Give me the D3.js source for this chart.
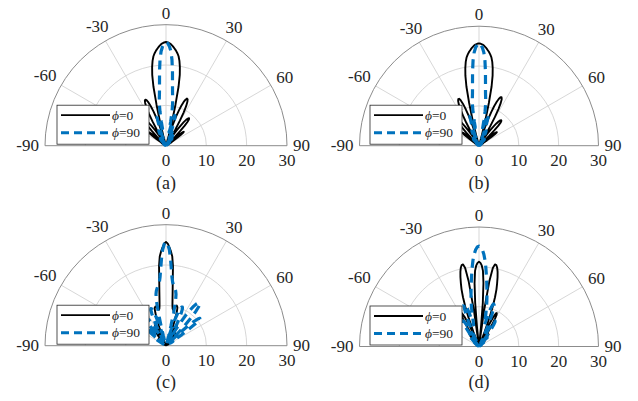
<!DOCTYPE html>
<html lang="en">
<head>
<meta charset="UTF-8">
<title>Radiation patterns</title>
<style>
  body { margin: 0; background: #fff; }
  svg text { font-family: "Liberation Serif", "Times New Roman", serif; fill: #262626; }
</style>
</head>
<body>
<div id="chart"></div>
<script src="https://cdn.jsdelivr.net/npm/d3@7"></script>
<script>
// sample angles (deg), shared by every pattern
const angles = [
  -60,-59,-58,-57,-56,-55,-54,-53,-52,-51,
  -50,-49,-48,-47,-46,-45,-44,-43,-42,-41,
  -40,-39,-38,-37,-36,-35,-34,-33,-32,-31,
  -30,-29,-28,-27,-26,-25,-24,-23,-22,-21,
  -20,-19,-18,-17,-16,-15,-14,-13,-12,-11,
  -10,-9,-8,-7,-6,-5,-4,-3,-2,-1,
  0,
  1,2,3,4,5,6,7,8,9,10,
  11,12,13,14,15,16,17,18,19,20,
  21,22,23,24,25,26,27,28,29,30,
  31,32,33,34,35,36,37,38,39,40,
  41,42,43,44,45,46,47,48,49,50,
  51,52,53,54,55,56,57,58,59,60
];

// (a)
const patA0 = [
  1.4,1,0.5,0.6,1.6,3,4.2,5.1,5.4,5.1,
  4.2,2.9,1.4,0.4,1.4,3.1,5,6.6,7.8,8.5,
  8.7,8.5,8,7.1,6,4.6,3.1,1.5,0.6,2.1,
  4.5,6.9,9.1,10.7,11.8,12.4,12.5,12.2,11.5,10.4,
  9,7.2,5,2.5,0.6,2.5,6.2,10.5,15,17.9,
  19.8,21.3,22.4,23.1,23.7,24.2,24.7,25.1,25.4,25.6,
  25.7,
  25.6,25.4,25.1,24.7,24.2,23.7,23.1,22.4,21.3,19.8,
  17.9,15,10.5,6.2,2.5,0.6,2.6,5.2,7.4,9.2,
  10.6,11.7,12.4,12.8,12.7,12.1,11,9.3,7.1,4.6,
  2.2,0.6,1.6,3.2,4.7,6.1,7.3,8.2,8.7,8.9,
  8.7,8,6.8,5.1,3.2,1.5,0.4,1.5,3,4.4,
  5.3,5.6,5.3,4.4,3.1,1.7,0.6,0.5,1.1,1.5
];
const patA90 = [
  0.2,0.3,0.5,0.5,0.4,0.2,0.4,0.7,0.8,0.6,
  0.3,0.3,0.8,1.2,1.2,0.8,0.3,0.5,1.4,2.1,
  2.2,1.7,0.9,0.3,1.1,2.2,2.9,3,2.4,1.3,
  0.6,1.4,2.6,3.6,4.1,4,3.4,2.4,1.6,2.8,
  3.8,5.5,6.8,7.5,7.6,6.8,5.2,3.3,3.6,6,
  8.6,10.5,11.9,13.3,15.4,18.4,21.3,23.4,24.6,25.4,
  25.7,
  25.4,24.6,23.4,21.3,18.4,15.4,13.3,11.9,10.5,8.6,
  6,3.6,3.4,5.4,7,7.8,7.7,6.9,5.6,3.9,
  2.8,1.6,2.4,3.4,4,4.1,3.6,2.6,1.4,0.6,
  1.3,2.4,3,2.9,2.2,1.1,0.3,0.9,1.7,2.3,
  2.2,1.5,0.6,0.3,0.8,1.2,1.2,0.8,0.3,0.3,
  0.6,0.8,0.7,0.4,0.2,0.4,0.5,0.5,0.3,0.2
];

// (b)
const patB0 = [
  1.3,1,0.5,0.5,1.5,2.8,4,4.9,5.3,5.1,
  4.3,3,1.5,0.4,1.3,2.8,4.6,6.2,7.5,8.3,
  8.6,8.5,8,7.2,6.1,4.7,3.2,1.6,0.6,2,
  4.2,6.5,8.6,10.3,11.6,12.4,12.8,12.8,12.3,11.3,
  9.8,7.9,5.6,2.9,0.6,2.8,6.6,11,15.2,17.9,
  19.8,21.3,22.4,23.1,23.7,24.2,24.7,25.1,25.4,25.6,
  25.7,
  25.6,25.4,25.1,24.7,24.2,23.7,23.1,22.4,21.3,19.8,
  17.9,15.2,11,6.6,2.8,0.6,2.2,4.6,6.9,8.9,
  10.6,11.9,12.8,13.3,13.4,13,12,10.4,8.2,5.6,
  3,1,0.6,2,3.5,4.9,6.1,7.1,7.8,8.3,
  8.5,8.4,8,7,5.5,3.6,1.7,0.5,1.8,3.5,
  4.8,5.5,5.6,5,3.9,2.4,1,0.4,0.9,1.3
];
const patB90 = [
  0.2,0.3,0.5,0.5,0.4,0.2,0.4,0.7,0.8,0.6,
  0.3,0.3,0.8,1.2,1.2,0.8,0.3,0.5,1.4,2.1,
  2.2,1.7,0.9,0.3,1.1,2.2,2.9,3,2.4,1.3,
  0.6,1.4,2.6,3.6,4.1,4,3.4,2.4,1.6,2.8,
  3.9,5.7,7,7.8,7.9,7.2,5.6,3.6,3.8,6.2,
  8.7,10.6,12,13.4,15.6,18.6,21.4,23.4,24.6,25.4,
  25.7,
  25.4,24.6,23.4,21.4,18.6,15.6,13.4,12,10.6,8.8,
  6.3,4,3.8,5.8,7.4,8.1,8,7.2,5.8,4,
  2.8,1.6,2.4,3.4,4,4.1,3.6,2.6,1.4,0.6,
  1.3,2.3,2.9,2.8,2.1,1.1,0.3,0.9,1.6,2.1,
  2,1.4,0.6,0.3,0.8,1.2,1.2,0.8,0.3,0.3,
  0.6,0.8,0.7,0.4,0.2,0.4,0.5,0.5,0.3,0.2
];

// (c)
const patC0 = [
  0.5,0.8,0.9,0.7,0.3,0.4,1,1.4,1.5,1.2,
  0.6,0.2,0.8,1.6,2.3,2.5,2.2,1.4,0.5,0.6,
  1.7,2.8,3.6,3.9,3.6,2.8,1.5,0.4,1.5,3,
  4.4,5.4,5.8,5.5,4.5,3,1.5,0.3,1,2.8,
  4.8,6.8,8.5,9.6,9.9,10.1,10,9.7,9.3,9.1,
  9.4,10.2,11.6,13.5,16,19.8,22.2,23.4,24.4,25.3,
  25.7,
  25.3,24.4,23.4,22.2,19.8,16,13.5,11.6,10.2,9.4,
  9.1,9.3,9.8,10.2,10.3,10.1,9.6,8.5,6.8,4.8,
  2.8,1,0.3,1.5,3,4.5,5.5,5.8,5.4,4.4,
  3,1.5,0.4,1.5,2.8,3.6,3.9,3.6,2.8,1.7,
  0.6,0.5,1.4,2.2,2.5,2.3,1.6,0.8,0.2,0.6,
  1.2,1.5,1.4,1,0.4,0.3,0.7,0.9,0.8,0.5
];
const patC90 = [
  0.5,1.2,2.2,3.1,3.3,2.8,1.8,1,2,3.6,
  5,6,6.4,6.2,5.6,4.5,3,1.5,1.2,2.7,
  4.5,6.2,7.5,8.2,8.5,8.4,8,7.2,6,4.6,
  3,1.5,1.4,3,5,7,8.6,9.6,9.9,9.7,
  9,7.5,5.5,3,1,2.5,5,8.5,11.5,13,
  13.8,14.3,14.8,15.2,15.8,17,19,21.5,23.8,25.2,
  25.7,
  25.2,23.8,21.5,19,17,15.8,15.2,14.8,14.3,13.8,
  13,11.5,8.5,5,2.5,1,2.5,5,7.2,8.8,
  9.8,10.3,10.4,10,9,7.3,5,2.8,1.5,2.5,
  4.5,6.8,8.9,10.6,11.9,12.8,13.3,13.5,13.3,12.6,
  11.2,9,6.2,3.5,1.5,2,4.5,7,9,10.3,
  10.8,10.5,9.3,7.2,4.8,2.5,1.2,2,1.6,0.6
];

// (d)
const patD0 = [
  0.2,0.4,0.6,0.6,0.4,0.2,0.5,1,1.3,1.2,
  0.8,0.3,0.7,1.5,2.1,2.2,1.8,1,0.5,1.6,
  2.8,3.6,3.9,3.6,2.8,1.5,0.4,1.8,4,6.2,
  8,9.1,9.5,9.3,8.3,6.5,4,1.5,1,4,
  7.5,10.5,13,15,16.5,18,19.3,20.3,20.9,21,
  20,16.5,9,0.6,4.5,11,16,19,20.3,21,
  21.3,
  21,20.3,19,16,11,4.5,0.6,9,16.5,20,
  21,20.9,20.3,19.3,18,16.5,15,13,10.5,7.5,
  4,1,1.5,4,6.5,8.3,9.3,9.5,9.1,8,
  6.2,4,1.8,0.4,1.5,2.8,3.6,3.9,3.6,2.8,
  1.6,0.5,1,1.8,2.2,2.1,1.5,0.7,0.3,0.8,
  1.2,1.3,1,0.5,0.2,0.4,0.6,0.6,0.4,0.2
];
const patD90 = [
  0.2,0.3,0.3,0.5,0.7,0.7,0.5,0.3,0.8,1.3,
  1.5,1.3,0.8,0.3,1,1.9,2.6,3,2.9,2.4,
  1.5,0.6,0.8,2.1,3.7,5.3,6.6,7.4,7.6,7.3,
  6.5,5.2,3.5,1.8,1,2.4,4.4,6.6,8.6,10.2,
  11.1,11.3,10.9,9.9,8.3,6.5,5.6,6.6,8.2,9.8,
  11.3,12.8,14.3,16,17.8,19.8,21.7,23.2,24.3,25,
  25.2,
  25,24.3,23.2,21.7,19.8,17.8,16,14.3,12.8,11.3,
  9.8,8.2,6.6,5.6,6.5,8.3,9.9,10.9,11.3,11.1,
  10.2,8.6,6.6,4.4,2.4,1,1.8,3.5,5.2,6.5,
  7.3,7.6,7.4,6.6,5.3,3.7,2.1,0.8,0.6,1.5,
  2.4,2.9,3,2.6,1.9,1,0.3,0.8,1.3,1.5,
  1.3,0.8,0.3,0.5,0.7,0.7,0.5,0.3,0.3,0.2
];

const angleTicks = [-90, -60, -30, 0, 30, 60, 90];
const spokeTicks = [-60, -30, 0, 30, 60];
const rTicks = [0, 10, 20, 30];
const panelLabels = ["(a)", "(b)", "(c)", "(d)"];
const legendLabels = ["0", "90"];

const width = 638, height = 401;
const blue = "#0072BD";

const panels = [
  { label: panelLabels[0], cx: 166, cy: 145.7, R: 121,   p0: patA0, p90: patA90, ly: 188.5 },
  { label: panelLabels[1], cx: 479, cy: 145.7, R: 119.5, p0: patB0, p90: patB90, ly: 188.5 },
  { label: panelLabels[2], cx: 166, cy: 345.7, R: 121,   p0: patC0, p90: patC90, ly: 388 },
  { label: panelLabels[3], cx: 479, cy: 346.5, R: 119.5, p0: patD0, p90: patD90, ly: 388 }
];

const svg = d3.select("#chart").append("svg")
    .attr("width", width)
    .attr("height", height);

panels.forEach(p => {
  const g = svg.append("g").attr("transform", `translate(${p.cx},${p.cy})`);
  const r = d3.scaleLinear().domain([0, 30]).range([0, p.R]);
  const rad = a => a * Math.PI / 180;

  // inner rings
  rTicks.slice(1, -1).forEach(v => {
    const ring = d3.path();
    ring.moveTo(-r(v), 0);
    ring.arc(0, 0, r(v), Math.PI, 2 * Math.PI);
    g.append("path").attr("d", ring.toString())
      .attr("fill", "none").attr("stroke", "#d2d2d2").attr("stroke-width", 0.9);
  });

  // spokes
  g.selectAll(".spoke").data(spokeTicks).enter().append("line")
    .attr("x1", 0).attr("y1", 0)
    .attr("x2", d => r(30) * Math.sin(rad(d)))
    .attr("y2", d => -r(30) * Math.cos(rad(d)))
    .attr("stroke", "#d2d2d2").attr("stroke-width", 0.9);

  // outer boundary
  const outer = d3.path();
  outer.moveTo(-r(30), 0);
  outer.arc(0, 0, r(30), Math.PI, 2 * Math.PI);
  outer.closePath();
  g.append("path").attr("d", outer.toString())
    .attr("fill", "none").attr("stroke", "#8c8c8c").attr("stroke-width", 1);

  // radial tick labels
  g.selectAll(".rlab").data(rTicks).enter().append("text")
    .attr("x", d => r(d)).attr("y", 20.5)
    .attr("text-anchor", "middle")
    .style("font-size", "17px")
    .text(d => d);

  // angle tick labels
  angleTicks.forEach(a => {
    const t = g.append("text")
      .attr("text-anchor", "middle")
      .style("font-size", "17px")
      .text(a);
    const hw = t.node().getComputedTextLength() / 2, hh = 5.6;
    const s = Math.sin(rad(a)), c = Math.cos(rad(a));
    const rl = p.R + 6 + Math.abs(s) * hw + Math.abs(c) * hh;
    t.attr("x", rl * s).attr("y", -rl * c + 5.6);
  });

  // patterns
  const line = d3.lineRadial()
    .angle((d, i) => rad(angles[i]))
    .radius(d => r(d));

  g.append("path").attr("d", line(p.p0))
    .attr("fill", "none").attr("stroke", "#000")
    .attr("stroke-width", 1.9).attr("stroke-linejoin", "round");

  g.append("path").attr("d", line(p.p90))
    .attr("fill", "none").attr("stroke", blue)
    .attr("stroke-width", 3.2).attr("stroke-dasharray", "9,6")
    .attr("stroke-linejoin", "round");

  // legend
  const lg = g.append("g").attr("transform", "translate(-109,-40.5)");
  lg.append("rect").attr("width", 92).attr("height", 39)
    .attr("fill", "#fff").attr("stroke", "#262626").attr("stroke-width", 0.8);
  lg.append("line").attr("x1", 4).attr("x2", 53).attr("y1", 10).attr("y2", 10)
    .attr("stroke", "#000").attr("stroke-width", 1.8);
  lg.append("line").attr("x1", 4).attr("x2", 53).attr("y1", 27.5).attr("y2", 27.5)
    .attr("stroke", blue).attr("stroke-width", 3).attr("stroke-dasharray", "8,5");
  legendLabels.forEach((lab, i) => {
    const t = lg.append("text").attr("x", 55).attr("y", 14.5 + i * 17.5)
      .style("font-size", "13.5px");
    t.append("tspan").style("font-style", "italic").text("\u03D5");
    t.append("tspan").text("=" + lab);
  });

  // panel caption
  svg.append("text")
    .attr("x", p.cx).attr("y", p.ly)
    .attr("text-anchor", "middle")
    .style("font-size", "18px")
    .text(p.label);
});
</script>
</body>
</html>
